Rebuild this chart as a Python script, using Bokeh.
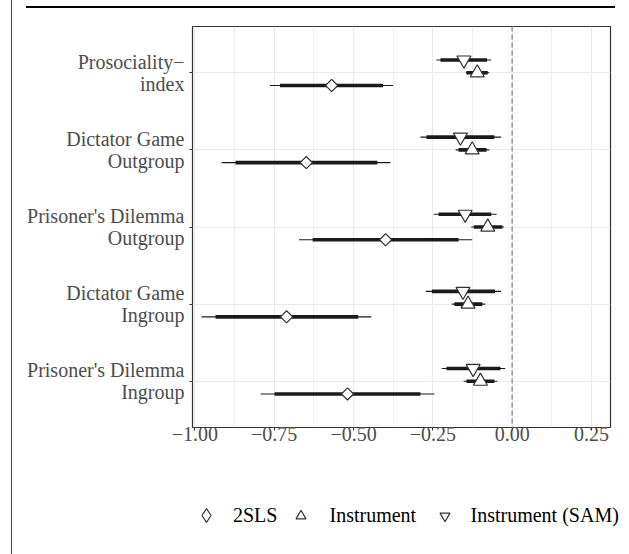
import numpy as np
from bokeh.plotting import figure
from bokeh.layouts import column, row
from bokeh.models import (ColumnDataSource, FixedTicker, CustomJSTickFormatter, Legend,
                          LegendItem, Span, Range1d)
from bokeh.embed import file_html
from bokeh.resources import INLINE

# ---------------- data ----------------
categories = ["Prosociality\u2212\nindex", "Dictator Game\nOutgroup",
              "Prisoner's Dilemma\nOutgroup", "Dictator Game\nIngroup",
              "Prisoner's Dilemma\nIngroup"]

series_names = ["2SLS", "Instrument", "Instrument (SAM)"]

# 2SLS
est_2sls = [-0.569, -0.649, -0.399, -0.711, -0.519]
lo90_2sls = [-0.732, -0.872, -0.629, -0.935, -0.749]
hi90_2sls = [-0.407, -0.425, -0.169, -0.485, -0.289]
lo95_2sls = [-0.764, -0.916, -0.672, -0.979, -0.793]
hi95_2sls = [-0.375, -0.384, -0.126, -0.444, -0.245]

# Instrument
est_inst = [-0.110, -0.126, -0.077, -0.139, -0.100]
lo90_inst = [-0.144, -0.169, -0.121, -0.182, -0.144]
hi90_inst = [-0.077, -0.081, -0.031, -0.094, -0.056]
lo95_inst = [-0.146, -0.178, -0.129, -0.190, -0.153]
hi95_inst = [-0.072, -0.072, -0.026, -0.085, -0.047]

# Instrument (SAM)
est_sam = [-0.152, -0.163, -0.148, -0.155, -0.123]
lo90_sam = [-0.226, -0.270, -0.232, -0.253, -0.207]
hi90_sam = [-0.079, -0.056, -0.066, -0.054, -0.037]
lo95_sam = [-0.239, -0.289, -0.247, -0.272, -0.222]
hi95_sam = [-0.066, -0.035, -0.049, -0.035, -0.022]

x_ticks = [-1.0, -0.75, -0.5, -0.25, 0.0, 0.25]
x_minor_ticks = [-0.875, -0.625, -0.375, -0.125, 0.125]

# ---------------- main figure ----------------
FONT = "Liberation Serif"
W, H1, H2 = 629, 470, 84
cat_y = list(range(len(categories), 0, -1))

LEFT_RULE = "linear-gradient(#444444,#444444) 10.5px 0px / 1.3px 100% no-repeat"
TOP_RULE = "linear-gradient(#000000,#000000) 26px 6px / 589px 2.3px no-repeat"

p = figure(width=W, height=H1, output_backend="svg", toolbar_location=None,
           x_range=Range1d(-1.0076, 0.310), y_range=Range1d(0.4, 5.6),
           min_border_left=192, min_border_right=19, min_border_top=26,
           min_border_bottom=H1 - 427)
p.background_fill_color = "white"
p.border_fill_color = None
p.styles = {"background": LEFT_RULE + ", " + TOP_RULE + ", #ffffff"}
p.outline_line_color = "#333333"
p.outline_line_width = 1.2

# grid
p.xgrid.ticker = FixedTicker(ticks=x_ticks, minor_ticks=x_minor_ticks)
p.xgrid.grid_line_color = "#ebebeb"
p.xgrid.grid_line_width = 1.2
p.xgrid.minor_grid_line_color = "#ebebeb"
p.xgrid.minor_grid_line_width = 0.8
p.ygrid.ticker = FixedTicker(ticks=cat_y)
p.ygrid.grid_line_color = "#ebebeb"
p.ygrid.grid_line_width = 1.2

# axes
p.xaxis.ticker = FixedTicker(ticks=x_ticks, minor_ticks=x_minor_ticks)
p.xaxis.formatter = CustomJSTickFormatter(
    code="return (tick < 0 ? '\u2212' : '') + Math.abs(tick).toFixed(2);")
p.yaxis.ticker = FixedTicker(ticks=cat_y)
p.yaxis.major_label_overrides = {y: lbl for y, lbl in zip(cat_y, categories)}
for ax in (p.xaxis, p.yaxis):
    ax.axis_line_color = None
    ax.major_tick_line_color = "#333333"
    ax.major_tick_line_width = 1.1
    ax.major_tick_out = 3
    ax.major_tick_in = 0
    ax.minor_tick_line_color = None
    ax.major_label_text_font = FONT
    ax.major_label_text_font_size = "20px"
    ax.major_label_text_color = "#4d4d4d"
p.yaxis.major_label_standoff = 5
p.xaxis.major_label_standoff = -5
try:
    p.yaxis.major_label_text_line_height = 1.0
except Exception:
    pass

# zero line
p.add_layout(Span(location=0, dimension="height", line_color="#9a9a9a",
                  line_dash="5 3", line_width=1.5))

series = [
    (est_2sls, lo90_2sls, hi90_2sls, lo95_2sls, hi95_2sls, -0.165, "square", 8.6),
    (est_inst, lo90_inst, hi90_inst, lo95_inst, hi95_inst, 0.0, "triangle", 14),
    (est_sam, lo90_sam, hi90_sam, lo95_sam, hi95_sam, 0.165, "inverted_triangle", 14),
]

line_col = "#1a1a1a"
sources = []
for est, lo90, hi90, lo95, hi95, off, mk, sz in series:
    src = ColumnDataSource(dict(y=[c + off for c in cat_y], est=est,
                                lo90=lo90, hi90=hi90, lo95=lo95, hi95=hi95))
    sources.append(src)
    p.segment(x0="lo95", x1="hi95", y0="y", y1="y", source=src,
              line_color=line_col, line_width=1.1)
for src in sources:
    p.segment(x0="lo90", x1="hi90", y0="y", y1="y", source=src,
              line_color=line_col, line_width=3.6, line_cap="butt")

for src, (est, lo90, hi90, lo95, hi95, off, mk, sz) in zip(sources, series):
    p.scatter(x="est", y="y", source=src, marker=mk, size=sz,
              angle=(np.pi / 4 if mk == "square" else 0.0),
              fill_color="white", line_color="#333333", line_width=1.2)

# ---------------- legend strip ----------------
# (its frame covers the whole strip; the series' points lie outside its x-range,
#  so only the legend keys are drawn)
q = figure(width=W, height=H2, output_backend="svg", toolbar_location=None,
           x_range=Range1d(0, 1), y_range=Range1d(0, 1),
           x_axis_type=None, y_axis_type=None,
           min_border_left=0, min_border_right=0, min_border_top=0, min_border_bottom=0)
q.grid.visible = False
q.outline_line_color = None
q.background_fill_color = None
q.border_fill_color = None
q.styles = {"background": LEFT_RULE + ", #ffffff"}

# legend key specs: (marker, key box, key centre x, label standoff)
leg_specs = [("diamond", 34, 206, 10), ("triangle", 25, 300, 17),
             ("inverted_triangle", 25, 444, 14)]
item_cy = 554 - 515  # centre of the legend row, measured from the strip's bottom
for name, src, (mk, gbox, cx, stand) in zip(series_names, sources, leg_specs):
    key = q.scatter(x="est", y="y", source=src, marker=mk, fill_color="white",
                    line_color="#333333", line_width=1.2)
    lg = Legend(items=[LegendItem(label=name, renderers=[key])],
                location=(cx - gbox / 2, item_cy - gbox / 2),
                orientation="horizontal", glyph_width=gbox, glyph_height=gbox,
                label_standoff=stand, padding=0, margin=0, spacing=0,
                border_line_color=None, background_fill_alpha=0,
                label_text_font=FONT, label_text_font_size="20px",
                label_text_color="black")
    q.add_layout(lg)

layout = column(p, row(q), spacing=0)
open("out.html", "w").write(file_html(layout, INLINE))
